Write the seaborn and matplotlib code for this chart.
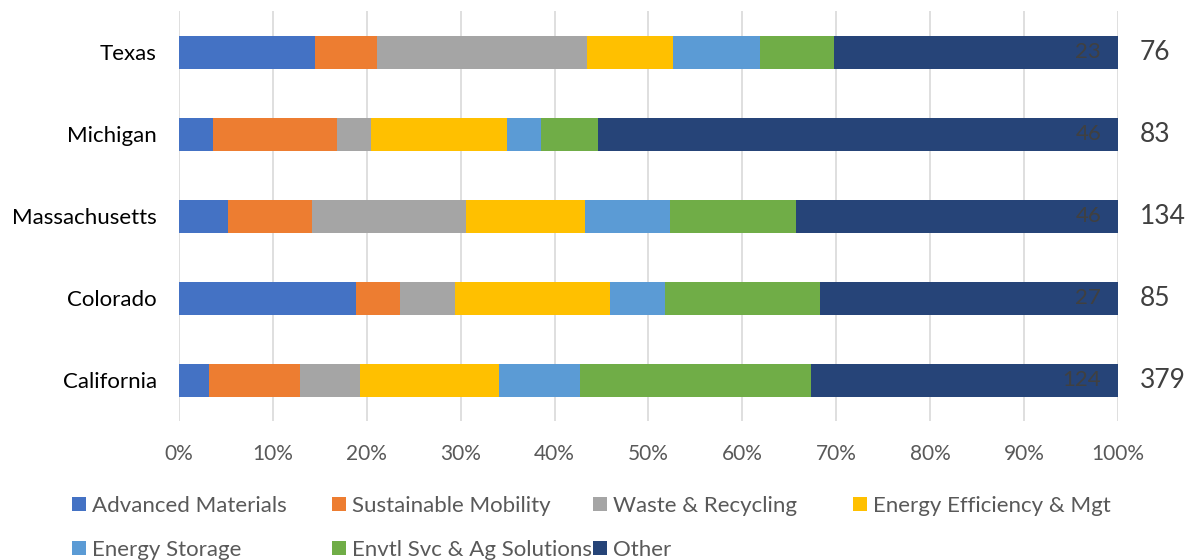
import numpy as np
import pandas as pd
import matplotlib
matplotlib.use("Agg")
import matplotlib.pyplot as plt
import seaborn as sns
from matplotlib.patches import Patch

states = ["Texas", "Michigan", "Massachusetts", "Colorado", "California"]
categories = ["Advanced Materials", "Sustainable Mobility", "Waste & Recycling",
              "Energy Efficiency & Mgt", "Energy Storage", "Envtl Svc & Ag Solutions", "Other"]
advanced_materials = [11, 3, 7, 16, 12]
sustainable_mobility = [5, 11, 12, 4, 37]
waste_recycling = [17, 3, 22, 5, 24]
energy_efficiency = [7, 12, 17, 14, 56]
energy_storage = [7, 3, 12, 5, 33]
envtl_svc_ag = [6, 5, 18, 14, 93]
other = [23, 46, 46, 27, 124]
tick_labels = ["0%", "10%", "20%", "30%", "40%", "50%", "60%", "70%", "80%", "90%", "100%"]

colors = ["#4472C4", "#ED7D31", "#A5A5A5", "#FFC000", "#5B9BD5", "#70AD47", "#264478"]

series = [advanced_materials, sustainable_mobility, waste_recycling, energy_efficiency,
          energy_storage, envtl_svc_ag, other]
counts = np.array(series, dtype=float)  # shape (7, 5)
totals = counts.sum(axis=0)
pct = counts / totals * 100
cum = np.cumsum(pct, axis=0)

sns.set_theme(style="white")
plt.rcParams['font.family'] = ['Lato', 'DejaVu Sans']

fig = plt.figure(figsize=(11.85, 5.6), dpi=100)
ax = fig.add_axes([0.151, 0.2477, 0.7925, 0.7318])

for i in range(len(categories) - 1, -1, -1):
    df = pd.DataFrame({"state": states, "value": cum[i]})
    sns.barplot(data=df, x="value", y="state", order=states, orient="h",
                color=colors[i], saturation=1, width=0.4, ax=ax, zorder=2,
                edgecolor="none", linewidth=0)

ax.set_xlim(0, 100)
ax.set_xticks(np.arange(0, 101, 10))
ax.set_xticklabels(tick_labels)
ax.set_xlabel("")
ax.set_ylabel("")
ax.grid(axis="x", color="#D9D9D9", linewidth=1.2, zorder=0)
ax.set_axisbelow(True)
for s in ax.spines.values():
    s.set_visible(False)
ax.tick_params(axis="x", length=0, pad=16, labelsize=15, labelcolor="#595959")
ax.tick_params(axis="y", length=0, pad=16, labelsize=16, labelcolor="#000000")

for j, st in enumerate(states):
    ax.text(98.2, j, f"{int(other[j])}", ha="right", va="center", fontsize=16,
            color="#404040", zorder=5)
    ax.text(102.3, j, f"{int(totals[j])}", ha="left", va="center", fontsize=19,
            color="#404040", clip_on=False)

# Legend: grid of entries, 4 per row, equal column widths
col_x = [72, 332, 593, 853]
row_y = [506, 550]
for k, (c, lab) in enumerate(zip(colors, categories)):
    r, cidx = divmod(k, 4)
    h = Patch(facecolor=c, edgecolor="none", label=lab)
    fig.legend(handles=[h], loc="center left",
               bbox_to_anchor=(col_x[cidx] / 1185, 1 - row_y[r] / 560),
               frameon=False, fontsize=16, labelcolor="#595959",
               handlelength=0.63, handleheight=0.63, handletextpad=0.27,
               borderpad=0, borderaxespad=0)

fig.savefig("out.png", dpi=100)
